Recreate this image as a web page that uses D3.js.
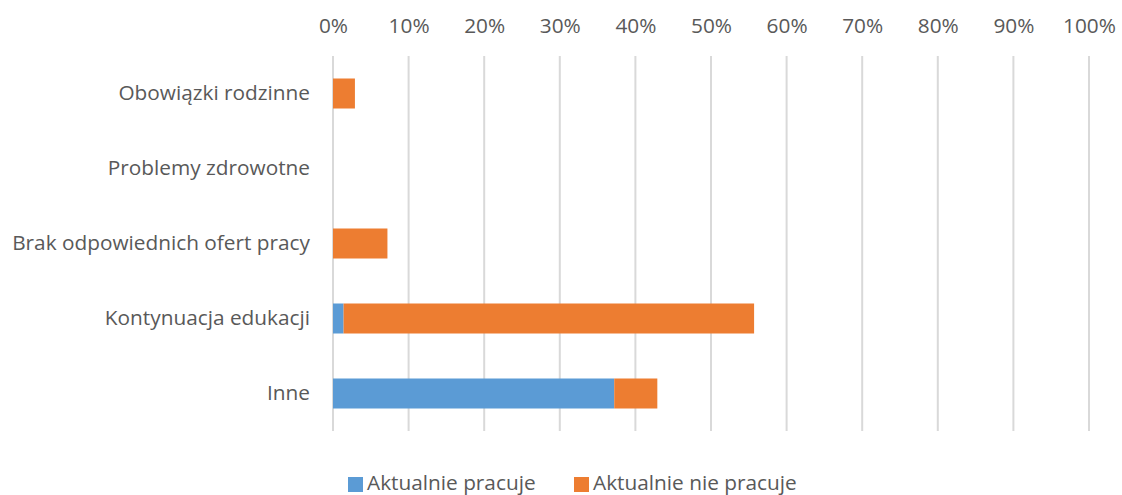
<!DOCTYPE html>
<html><head><meta charset="utf-8">
<script src="https://cdn.jsdelivr.net/npm/d3@7"></script>
<style>body{margin:0;background:#fff}svg{display:block}text{font-family:"Open Sans",sans-serif;fill:#595959}</style>
</head><body>
<script>
const categories = ["Obowiązki rodzinne","Problemy zdrowotne","Brak odpowiednich ofert pracy","Kontynuacja edukacji","Inne"];
const seriesNames = ["Aktualnie pracuje","Aktualnie nie pracuje"];
const pracuje = [0, 0, 0, 1.4, 37.2];
const niePracuje = [2.9, 0, 7.2, 54.3, 5.7];
const tickValues = [0,10,20,30,40,50,60,70,80,90,100];
const colors = ["#5B9BD5","#ED7D31"];

const W=1122,H=495, FS="20.8px";
const svg=d3.select("body").append("svg").attr("width",W).attr("height",H);
const x=d3.scaleLinear().domain([0,100]).range([333,1089]);
const y=d3.scaleBand().domain(categories).range([56,431]).paddingInner(0.6).paddingOuter(0.3);

svg.append("g").selectAll("line").data(tickValues).join("line")
  .attr("x1",d=>x(d)).attr("x2",d=>x(d)).attr("y1",56).attr("y2",431)
  .attr("stroke","#d9d9d9").attr("stroke-width",2);

const ax=svg.append("g").attr("transform","translate(0,33)")
  .call(d3.axisTop(x).tickValues(tickValues).tickFormat(d=>d+"%").tickSize(0).tickPadding(0));
ax.select(".domain").remove();
ax.selectAll("text").attr("font-size",FS).attr("fill","#595959").style("font-family","'Open Sans',sans-serif");

const rows=categories.map((c,i)=>({cat:c,a:pracuje[i],b:niePracuje[i]}));
const stack=d3.stack().keys(["a","b"])(rows);
svg.append("g").selectAll("g").data(stack).join("g").attr("fill",(d,i)=>colors[i])
  .selectAll("rect").data(d=>d).join("rect")
  .attr("x",d=>x(d[0])).attr("width",d=>x(d[1])-x(d[0]))
  .attr("y",d=>y(d.data.cat)).attr("height",y.bandwidth());

const ay=svg.append("g").attr("transform","translate(333,0)")
  .call(d3.axisLeft(y).tickSize(0).tickPadding(23));
ay.select(".domain").remove();
ay.selectAll("text").attr("font-size",FS).attr("fill","#595959").style("font-family","'Open Sans',sans-serif");

const leg=svg.append("g");
const lx=[348,574];
seriesNames.forEach((n,i)=>{
  leg.append("rect").attr("x",lx[i]).attr("y",477).attr("width",15).attr("height",15).attr("fill",colors[i]);
  leg.append("text").attr("x",lx[i]+19).attr("y",490).attr("font-size",FS).text(n);
});
</script>
</body></html>
